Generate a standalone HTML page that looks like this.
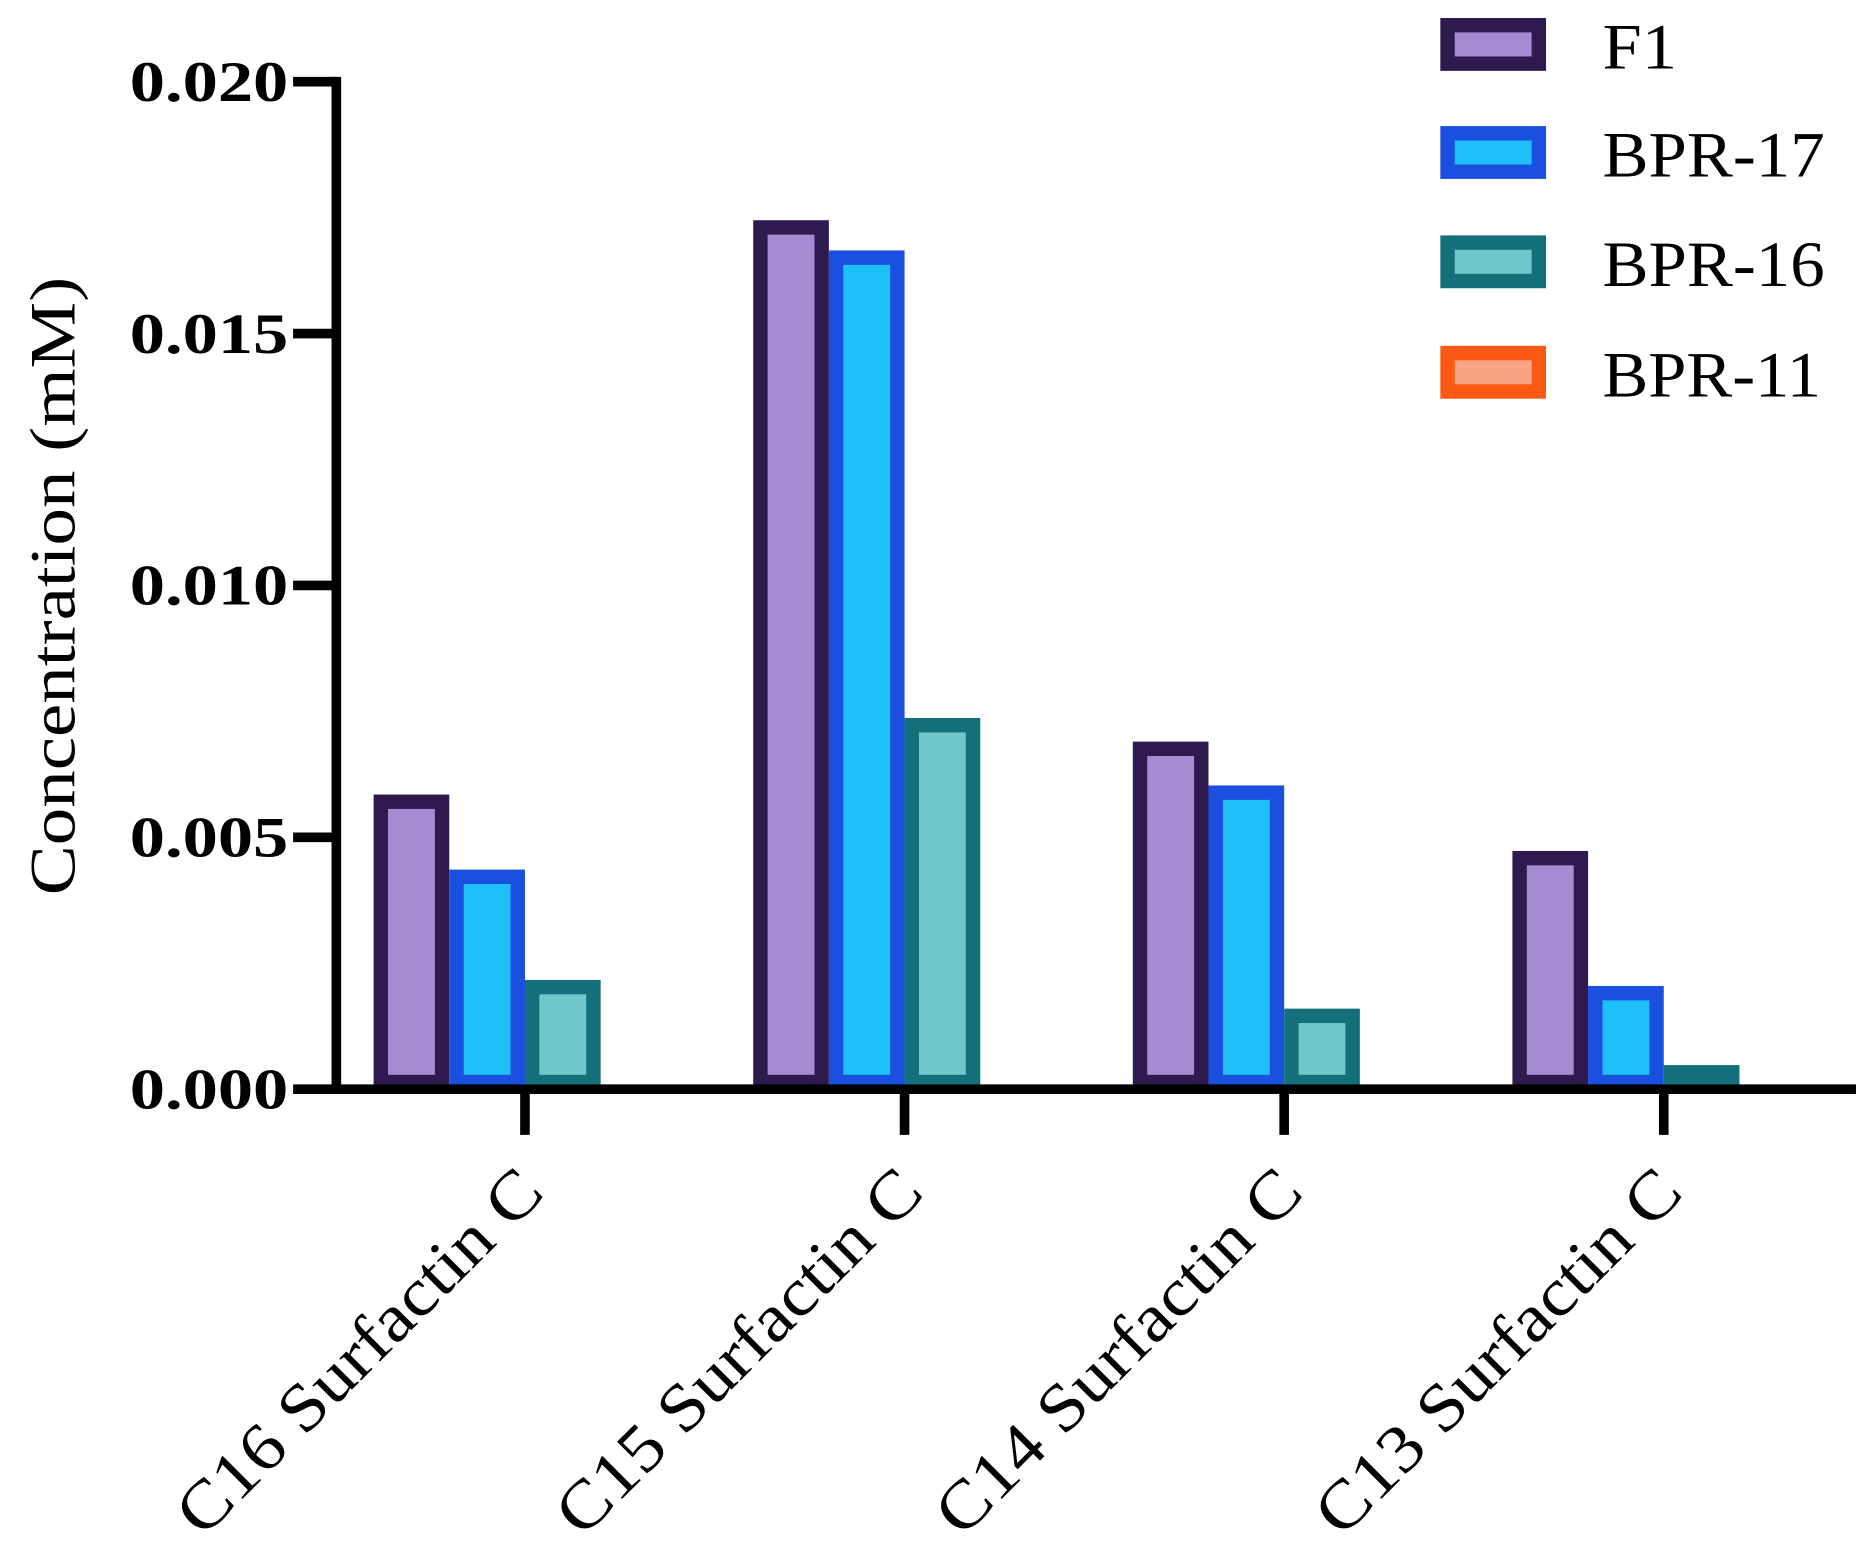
<!DOCTYPE html>
<html><head><meta charset="utf-8"><style>
html,body{margin:0;padding:0;background:#fff;}
svg{display:block;font-family:"Liberation Serif",serif;}
</style></head><body>
<svg id="chart" width="1874" height="1554" viewBox="0 0 1560 1294" preserveAspectRatio="none" xmlns="http://www.w3.org/2000/svg">
<g id="bars"></g>
<g id="axes"></g>
<g id="legend"></g>
<text transform="translate(62,488) rotate(-90)" text-anchor="middle" font-size="54" textLength="515" lengthAdjust="spacingAndGlyphs">Concentration (mM)</text>
</svg>
<script>
const categories = ["C16 Surfactin C","C15 Surfactin C","C14 Surfactin C","C13 Surfactin C"];
const seriesNames = ["F1","BPR-17","BPR-16","BPR-11"];
const f1 = [0.00585,0.01725,0.0069,0.00473];
const bpr17 = [0.00436,0.01665,0.00603,0.00205];
const bpr16 = [0.00217,0.00737,0.0016,0.00048];
const bpr11 = [0,0,0,0];
const yTicks = [0,0.005,0.010,0.015,0.020];
const yTickLabels = ["0.000","0.005","0.010","0.015","0.020"];

const NS="http://www.w3.org/2000/svg";
const fills=["#a48cd3","#1ec0fa","#6fc7cc","#f9a384"];
const strokes=["#2e1a4f","#1a4fe0","#13707a","#fc5a14"];
const series=[f1,bpr17,bpr16,bpr11];
const x0=280, x1=1545, yBase=907, yTop=68;
function y(v){return yBase-(v/0.020)*(yBase-yTop);}
function xc(i){return 437+i*316;}
const bw=63, sw=12;
function mk(tag,attrs,parent){const e=document.createElementNS(NS,tag);for(const k in attrs)e.setAttribute(k,attrs[k]);parent.appendChild(e);return e;}
const bars=document.getElementById('bars');
categories.forEach((c,i)=>{
  series.forEach((s,j)=>{
    const v=s[i]; if(v<=0) return;
    const left=xc(i)-2*bw+j*bw;
    const top=y(v);
    const r=mk('rect',{x:left+sw/2,y:top+sw/2,width:bw-sw,height:Math.max(0,yBase-top-sw),fill:fills[j],stroke:strokes[j],'stroke-width':sw},bars);
    
    
  });
});
const ax=document.getElementById('axes');
let l=mk('line',{x1:x0,y1:yTop-4,x2:x0,y2:yBase+4,stroke:'#000','stroke-width':8},ax);


l=mk('line',{x1:x0-4,y1:yBase,x2:x1,y2:yBase,stroke:'#000','stroke-width':8},ax);


yTicks.forEach((t,k)=>{
  const tl=mk('line',{x1:x0-36,y1:y(t),x2:x0,y2:y(t),stroke:'#000','stroke-width':8},ax);
  
  
  const tx=mk('text',{x:x0-40,y:y(t)+16,'text-anchor':'end','font-size':48,'font-weight':'bold',textLength:132,lengthAdjust:'spacingAndGlyphs'},ax);
  tx.textContent=yTickLabels[k];
  
  
});
categories.forEach((c,i)=>{
  const tl=mk('line',{x1:xc(i),y1:yBase,x2:xc(i),y2:yBase+38,stroke:'#000','stroke-width':8},ax);
  
  
  const tx=mk('text',{transform:`translate(${xc(i)+18},${yBase+88}) rotate(-45)`,'text-anchor':'end','font-size':56,textLength:405,lengthAdjust:'spacingAndGlyphs'},ax);
  tx.textContent=c;
  
  
});
const lg=document.getElementById('legend');
const ly=[37,127,218,310];
const lw=[62,185,185,182];
seriesNames.forEach((n,j)=>{
  const r=mk('rect',{x:1205,y:ly[j]-16,width:76,height:32,fill:fills[j],stroke:strokes[j],'stroke-width':12},lg);
  
  
  const t=mk('text',{x:1334,y:ly[j]+20,'font-size':54,textLength:lw[j],lengthAdjust:'spacingAndGlyphs'},lg);
  t.textContent=n;
  
  
});
</script>
</body></html>
